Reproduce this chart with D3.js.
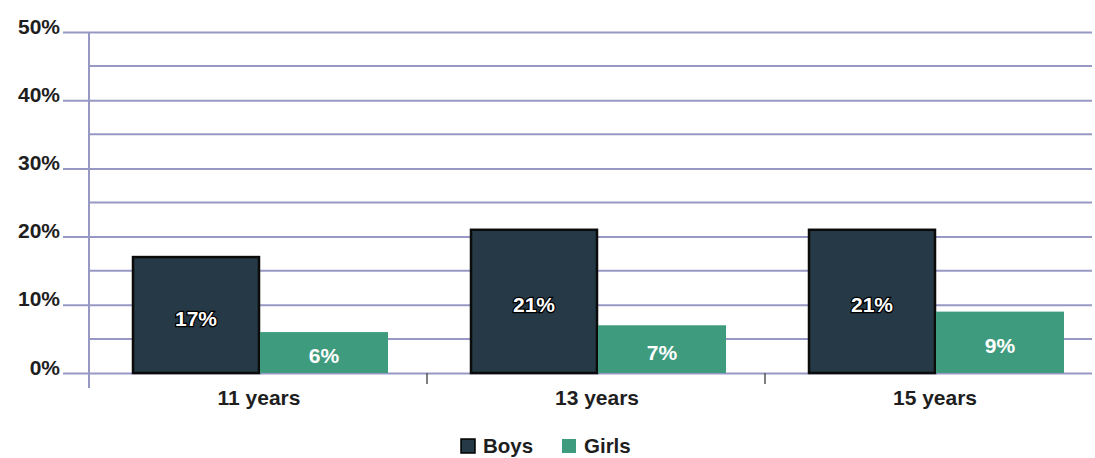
<!DOCTYPE html>
<html><head><meta charset="utf-8">
<script src="https://cdn.jsdelivr.net/npm/d3@7"></script>
<style>body{margin:0;background:#fff}svg{display:block;font-family:"Liberation Sans",Arial,sans-serif}</style>
</head><body><svg id="c" width="1095" height="458"></svg>
<script>
const categories = ["11 years", "13 years", "15 years"];
const seriesNames = ["Boys", "Girls"];
const boys = [17, 21, 21];
const girls = [6, 7, 9];
const yTicks = [0, 10, 20, 30, 40, 50];
const yMinorTicks = [5, 15, 25, 35, 45];
const colors = {Boys: "#253a46", Girls: "#3f9b7e"};

const svg = d3.select("#c");
const x0 = 89, x1 = 1103, yTop = 32, yBot = 373;
const x = d3.scaleBand().domain(categories).range([x0, x1]).paddingInner(0).paddingOuter(0);
const y = d3.scaleLinear().domain([0, 50]).range([yBot, yTop]);
const inner = d3.scaleBand().domain(seriesNames).range([43, 43 + 256]);

const grid = "#9898c4";
// minor gridlines
svg.append("g").selectAll("line").data(yMinorTicks).join("line")
  .attr("x1", x0).attr("x2", 1092).attr("y1", d => y(d)).attr("y2", d => y(d))
  .attr("stroke", grid).attr("stroke-width", 2);
// major gridlines + y axis labels
const gy = svg.append("g").attr("transform", `translate(63,0)`)
  .call(d3.axisLeft(y).tickValues(yTicks).tickFormat(d => d + "%").tickSize(0).tickPadding(3));
gy.select(".domain").remove();
gy.selectAll(".tick line").attr("x1", 0).attr("x2", 1092 - 63).attr("stroke", grid).attr("stroke-width", 2);
gy.selectAll(".tick text").attr("font-size", 21).attr("font-weight", "bold").attr("fill", "#1e1e1e").attr("dy", "0.05em").attr("x", -3);

// vertical axis line
svg.append("line").attr("x1", x0).attr("x2", x0).attr("y1", yTop).attr("y2", 388)
  .attr("stroke", grid).attr("stroke-width", 2);

// x axis ticks at band boundaries
const bounds = categories.slice(1).map(c => x(c));
svg.append("g").selectAll("line").data(bounds).join("line")
  .attr("x1", d => d).attr("x2", d => d).attr("y1", yBot).attr("y2", 384)
  .attr("stroke", "#555").attr("stroke-width", 1.5);

// bars
const data = categories.flatMap((c, i) => [
  {cat: c, s: "Boys", v: boys[i]},
  {cat: c, s: "Girls", v: girls[i]}
]);
const bars = svg.append("g");
bars.selectAll("rect").data(data).join("rect")
  .attr("x", d => x(d.cat) + inner(d.s) + (d.s === "Boys" ? 1 : 0))
  .attr("y", d => y(d.v))
  .attr("width", d => inner.bandwidth() - (d.s === "Boys" ? 2 : 0))
  .attr("height", d => yBot - y(d.v))
  .attr("fill", d => colors[d.s])
  .attr("stroke", d => d.s === "Boys" ? "#0b0b0b" : "none")
  .attr("stroke-width", 2.5);

bars.selectAll("text").data(data).join("text")
  .attr("x", d => x(d.cat) + inner(d.s) + inner.bandwidth() / 2)
  .attr("y", d => (y(d.v) + yBot) / 2 + 5)
  .attr("text-anchor", "middle").attr("dominant-baseline", "middle")
  .attr("font-size", 21).attr("font-weight", "bold").attr("fill", "#fff")
  .attr("stroke", d => d.s === "Boys" ? "#000" : "none").attr("stroke-width", 2.5)
  .attr("paint-order", "stroke")
  .text(d => d.v + "%");

// category labels
svg.append("g").selectAll("text").data(categories).join("text")
  .attr("x", d => x(d) + 43 + 128 - 1).attr("y", 405)
  .attr("text-anchor", "middle").attr("font-size", 21).attr("font-weight", "bold").attr("fill", "#1e1e1e")
  .text(d => d);

// legend
const legend = svg.append("g");
const lx = [461, 562];
seriesNames.forEach((s, i) => {
  legend.append("rect").attr("x", lx[i]).attr("y", 439).attr("width", 14).attr("height", 14).attr("fill", colors[s])
    .attr("stroke", s === "Boys" ? "#000" : "none").attr("stroke-width", 1.5);
  legend.append("text").attr("x", lx[i] + 22).attr("y", 453).attr("font-size", 20.5).attr("font-weight", "bold")
    .attr("fill", "#1e1e1e").text(s);
});
</script></body></html>
